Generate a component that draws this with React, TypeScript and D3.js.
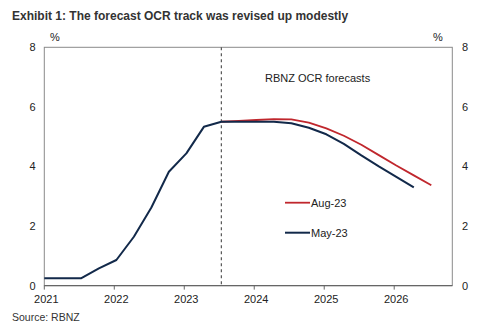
import React from "react";
import * as d3 from "d3";

const years = [2021, 2022, 2023, 2024, 2025, 2026];
const yTicks = [0, 2, 4, 6, 8];

const mayX = [2021.0, 2021.53, 2021.78, 2022.03, 2022.28, 2022.53, 2022.78, 2023.03, 2023.28, 2023.53, 2023.78, 2024.03, 2024.28, 2024.53, 2024.78, 2025.03, 2025.28, 2025.53, 2025.78, 2026.03, 2026.28];
const mayY = [0.25, 0.25, 0.58, 0.86, 1.64, 2.62, 3.82, 4.44, 5.33, 5.5, 5.5, 5.5, 5.5, 5.45, 5.3, 5.08, 4.76, 4.37, 4.0, 3.65, 3.3];

const augX = [2023.53, 2023.78, 2024.03, 2024.28, 2024.53, 2024.78, 2025.03, 2025.28, 2025.53, 2025.78, 2026.03, 2026.28, 2026.53];
const augY = [5.5, 5.53, 5.56, 5.59, 5.58, 5.47, 5.28, 5.03, 4.73, 4.38, 4.03, 3.7, 3.37];

const forecastStart = 2023.53;

const NAVY = "#12294a";
const RED = "#c0272d";

export default function App() {
  const W = 500, H = 326;
  const left = 44.3, right = 452.3, top = 47.3, bottom = 285.6;
  const x = d3.scaleLinear().domain([2021, 2026.83]).range([left, right]);
  const y = d3.scaleLinear().domain([0, 8]).range([bottom, top]);
  const line = d3.line<[number, number]>().x(d => x(d[0])).y(d => y(d[1]));
  const mayPts: [number, number][] = mayX.map((v, i) => [v, mayY[i]]);
  const augPts: [number, number][] = augX.map((v, i) => [v, augY[i]]);
  const font = "'Liberation Sans', Arial, sans-serif";
  return (
    <svg width={W} height={H} style={{ position: "absolute", left: 0, top: 0, background: "#fff" }} fontFamily={font}>
      <rect x={0} y={0} width={W} height={H} fill="#fff" />
      <text x={12} y={20} fontSize={12} fontWeight="bold" fill="#333">Exhibit 1: The forecast OCR track was revised up modestly</text>
      <rect x={left} y={top} width={right - left} height={bottom - top} fill="none" stroke="#8a8a8a" strokeWidth={1} />
      <line x1={left} x2={right} y1={bottom} y2={bottom} stroke="#666" strokeWidth={1.2} />
      {years.map(yr => (
        <g key={yr}>
          <line x1={x(yr)} x2={x(yr)} y1={bottom} y2={bottom + 4} stroke="#666" />
          <text x={x(yr) + 2} y={303} fontSize={11} textAnchor="middle" fill="#222">{yr}</text>
        </g>
      ))}
      {yTicks.map(t => (
        <g key={t}>
          <text x={35.5} y={y(t) + 4} fontSize={11} textAnchor="end" fill="#222">{t}</text>
          <text x={462} y={y(t) + 4} fontSize={11} textAnchor="start" fill="#222">{t}</text>
        </g>
      ))}
      <text x={55} y={41} fontSize={11} textAnchor="middle" fill="#222">%</text>
      <text x={438} y={41} fontSize={11} textAnchor="middle" fill="#222">%</text>
      <line x1={x(forecastStart)} x2={x(forecastStart)} y1={top} y2={bottom} stroke="#555" strokeWidth={1.2} strokeDasharray="3,3" />
      <text x={265} y={82} fontSize={11} fill="#222">RBNZ OCR forecasts</text>
      <path d={line(augPts) || ""} fill="none" stroke={RED} strokeWidth={1.8} strokeLinejoin="round" />
      <path d={line(mayPts) || ""} fill="none" stroke={NAVY} strokeWidth={2} strokeLinejoin="round" />
      <line x1={285} x2={310} y1={202.7} y2={202.7} stroke={RED} strokeWidth={1.8} />
      <text x={311} y={206.5} fontSize={11} fill="#222">Aug-23</text>
      <line x1={285} x2={310} y1={232.7} y2={232.7} stroke={NAVY} strokeWidth={2} />
      <text x={311} y={236.5} fontSize={11} fill="#222">May-23</text>
      <text x={12} y={321} fontSize={10.5} fill="#333">Source: RBNZ</text>
    </svg>
  );
}
